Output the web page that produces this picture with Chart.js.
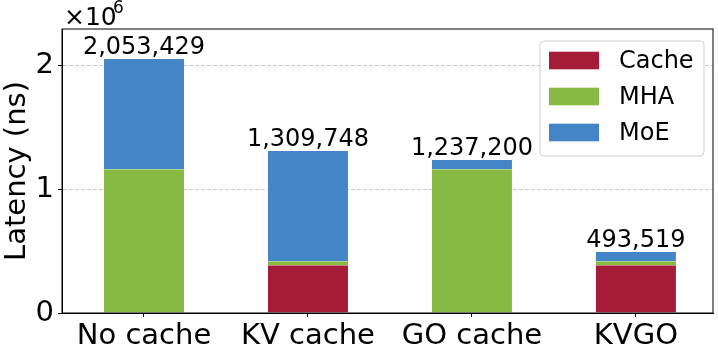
<!DOCTYPE html>
<html>
<head>
<meta charset="utf-8">
<script src="https://cdn.jsdelivr.net/npm/chart.js@4.4.1/dist/chart.umd.min.js"></script>
<style>
  html, body { margin: 0; padding: 0; background: #fff; }
  #wrap { width: 718px; height: 345px; position: relative; }
</style>
</head>
<body>
<div id="wrap"><canvas id="chart"></canvas></div>
<script>
const FONT = "'DejaVu Sans', sans-serif";

const categories = ["No cache", "KV cache", "GO cache", "KVGO"];
const totals = [2053429, 1309748, 1237200, 493519];
const cacheValues = [0, 385000, 0, 385000];
const mhaValues = [1161000, 34000, 1161000, 34000];
const moeValues = [892429, 890748, 76200, 74519];
const yTicks = [0, 1e6, 2e6];

const seriesNames = ["Cache", "MHA", "MoE"];
const seriesColors = ["#a51c38", "#86ba43", "#4485c8"];

function toPoints(values) {
  return values.map((v, i) => ({ x: i, y: v }));
}

// frame, bar totals, the x10^6 offset text and the legend box
const extras = {
  id: "extras",
  afterDatasetsDraw(chart) {
    const { ctx, chartArea, scales } = chart;
    ctx.save();
    ctx.strokeStyle = "#000";
    ctx.lineWidth = 1;
    ctx.strokeRect(chartArea.left, chartArea.top, chartArea.right - chartArea.left, chartArea.bottom - chartArea.top);

    ctx.fillStyle = "#000";
    ctx.font = "24px " + FONT;
    ctx.textAlign = "center";
    ctx.textBaseline = "alphabetic";
    totals.forEach((t, i) => {
      const x = scales.x.getPixelForValue(i);
      const y = scales.y.getPixelForValue(t);
      ctx.fillText(t.toLocaleString("en-US"), x, y - 5);
    });

    ctx.textAlign = "left";
    ctx.font = "25px " + FONT;
    ctx.fillText("\u00d710", 64, 25);
    ctx.font = "17px " + FONT;
    ctx.fillText("6", 113, 13);

    // legend
    const lx = 540, ly = 41, lw = 164, lh = 115;
    ctx.beginPath();
    ctx.roundRect(lx, ly, lw, lh, 4);
    ctx.fillStyle = "rgba(255,255,255,0.85)";
    ctx.fill();
    ctx.strokeStyle = "#d0d0d0";
    ctx.stroke();
    ctx.font = "24px " + FONT;
    ctx.textBaseline = "middle";
    chart.data.datasets.forEach((ds, i) => {
      const cy = 60.5 + i * 36;
      ctx.fillStyle = ds.backgroundColor;
      ctx.fillRect(549, cy - 8.8, 50, 17.6);
      ctx.fillStyle = "#000";
      ctx.fillText(ds.label, 619, cy + 1);
    });
    ctx.restore();
  }
};

new Chart(document.getElementById("chart"), {
  type: "bar",
  data: {
    datasets: [cacheValues, mhaValues, moeValues].map((vals, i) => ({
      label: seriesNames[i],
      data: toPoints(vals),
      backgroundColor: seriesColors[i],
      borderColor: "rgba(255,255,255,0.3)",
      borderWidth: { left: 1, right: 1, top: 0, bottom: 0 },
      borderSkipped: false,
      barPercentage: 0.5,
      categoryPercentage: 1
    }))
  },
  options: {
    responsive: true,
    maintainAspectRatio: false,
    animation: false,
    layout: { padding: { top: 29, right: 5, left: 0, bottom: 0 } },
    plugins: { legend: { display: false }, tooltip: { enabled: false } },
    scales: {
      x: {
        type: "linear",
        stacked: true,
        offset: false,
        min: -0.5,
        max: 3.47,
        afterBuildTicks: (scale) => { scale.ticks = categories.map((_, i) => ({ value: i })); },
        afterFit: (scale) => { scale.height = 32; },
        grid: { offset: false, drawOnChartArea: false, drawTicks: true, tickLength: 4, tickColor: "#000" },
        border: { color: "#000", width: 1 },
        ticks: {
          color: "#000",
          font: { family: FONT, size: 29 },
          padding: 2,
          maxRotation: 0,
          autoSkip: false,
          callback: (v) => categories[v] ?? ""
        }
      },
      y: {
        stacked: true,
        min: 0,
        max: 2295000,
        afterBuildTicks: (scale) => { scale.ticks = yTicks.map((v) => ({ value: v })); },
        afterFit: (scale) => { scale.width = 62; },
        grid: { color: "#c8c8c8", lineWidth: 1, tickLength: 4, tickColor: "#000", tickBorderDash: [] },
        border: { color: "#000", width: 1, dash: [4, 2] },
        ticks: {
          color: "#000",
          font: { family: FONT, size: 29 },
          padding: 4,
          callback: (v) => String(v / 1e6)
        },
        title: {
          display: true,
          text: "Latency (ns)",
          color: "#000",
          font: { family: FONT, size: 29 },
          padding: { top: 0, bottom: 0 }
        }
      }
    }
  },
  plugins: [extras]
});
</script>
</body>
</html>
